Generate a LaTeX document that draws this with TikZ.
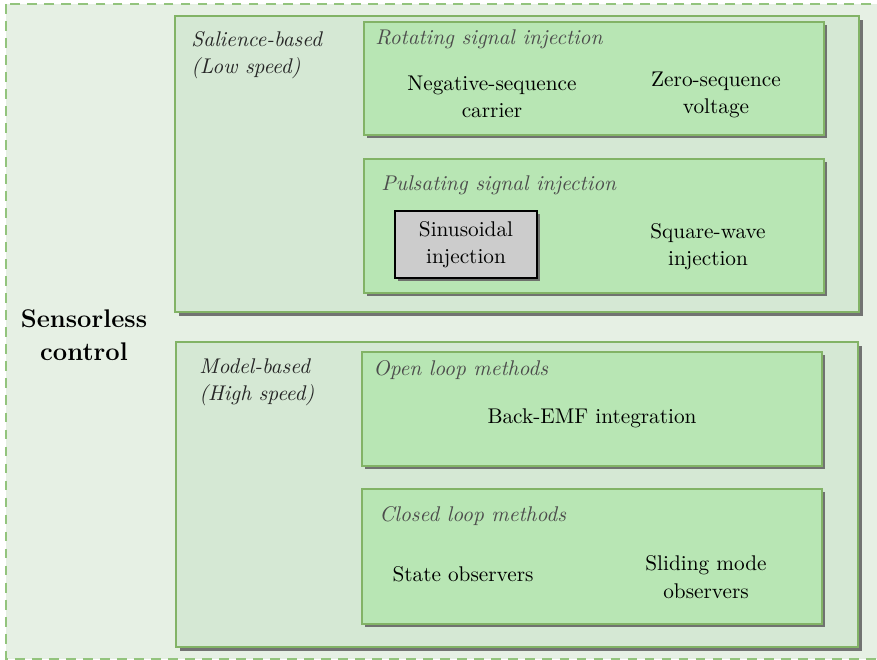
\documentclass[tikz,border=0pt]{standalone}
\usepackage{tikz}
\usetikzlibrary{shadows}
\definecolor{bgfill}{HTML}{E6F0E4}
\definecolor{grpfill}{HTML}{D5E8D4}
\definecolor{boxfill}{HTML}{B8E6B4}
\definecolor{grnline}{HTML}{82B366}
\definecolor{dashgrn}{HTML}{93C47D}
\def\pw{0.47pt}
\tikzset{
  grpbox/.style={draw=grnline, fill=grpfill, line width=0.8pt, inner sep=0pt,
    drop shadow={shadow xshift=1.8pt, shadow yshift=-1.8pt, fill=black!60, opacity=0.9}},
  methbox/.style={draw=grnline, fill=boxfill, line width=0.7pt, inner sep=0pt,
    drop shadow={shadow xshift=1.6pt, shadow yshift=-1.6pt, fill=black!60, opacity=0.9}},
  grptitle/.style={anchor=north west, inner sep=0pt, align=left, font=\fontsize{10}{12.8}\selectfont\itshape, text=black!85},
  methtitle/.style={anchor=north west, inner sep=0pt, font=\itshape, text=black!70},
  item/.style={align=center, inner sep=0pt, font=\fontsize{10}{12.8}\selectfont}
}
\begin{document}
\begin{tikzpicture}[x=0.47pt, y=-0.47pt]
	\useasboundingbox (0,0) rectangle (877,660);
	\clip (0,0) rectangle (877,660);
	% background frame
	\draw[dashgrn, fill=bgfill, line width=0.8pt, dash pattern=on 4.6pt off 3.4pt] (6,4) rectangle (890,659);
	\node[font=\fontsize{12}{15.5}\selectfont\bfseries, align=center] (sensorless) at (84,335) {Sensorless\\control};
	% salience-based group
	\node[grpbox, minimum width=684*\pw, minimum height=296*\pw] (salience) at (517,164) {};
	\node[grptitle] (saltitle) at (191,31) {Salience-based\\(Low speed)};
	\node[methbox, minimum width=460*\pw, minimum height=113*\pw] (rotating) at (594,78.5) {};
	\node[methtitle] (rottitle) at (375,29) {Rotating signal injection};
	\node[item] (negseq) at (492,97) {Negative-sequence\\carrier};
	\node[item] (zeroseq) at (716,95) {Zero-sequence\\voltage};
	\node[methbox, minimum width=460*\pw, minimum height=134*\pw] (pulsating) at (594,226) {};
	\node[methtitle] (pulstitle) at (381,175) {Pulsating signal injection};
	\node[draw, fill=black!20, line width=0.7pt, minimum width=142*\pw, minimum height=67*\pw, align=center,
	  font=\fontsize{10}{12.8}\selectfont,
	  drop shadow={shadow xshift=1.6pt, shadow yshift=-1.6pt, fill=black!60, opacity=0.9}] (sinus) at (466,244.5) {Sinusoidal\\injection};
	\node[item] (square) at (708,247) {Square-wave\\injection};
	% model-based group
	\node[grpbox, minimum width=682*\pw, minimum height=305*\pw] (model) at (517,494.5) {};
	\node[grptitle] (modtitle) at (199,358) {Model-based\\(High speed)};
	\node[methbox, minimum width=460*\pw, minimum height=114*\pw] (openloop) at (592,409) {};
	\node[methtitle] (opentitle) at (373,360) {Open loop methods};
	\node[item] (backemf) at (592,418) {Back-EMF integration};
	\node[methbox, minimum width=460*\pw, minimum height=135*\pw] (closedloop) at (592,556.5) {};
	\node[methtitle] (closedtitle) at (379,506) {Closed loop methods};
	\node[item] (stateobs) at (463,574) {State observers};
	\node[item] (slidobs) at (706,577) {Sliding mode\\observers};
\end{tikzpicture}
\end{document}
